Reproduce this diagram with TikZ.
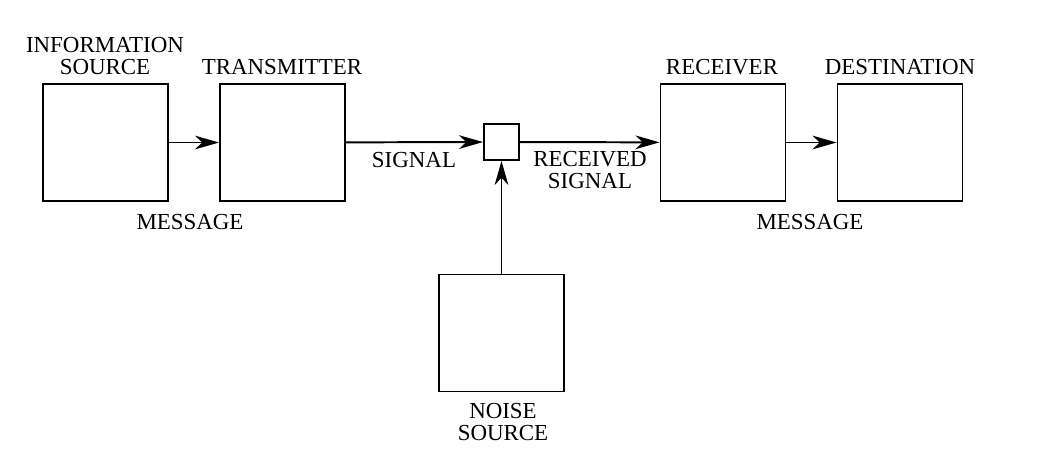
\documentclass[tikz,border=0pt]{standalone}
\usepackage{fontspec}
\setmainfont{Liberation Serif}
\usetikzlibrary{arrows.meta}
\begin{document}
\begin{tikzpicture}[x=0.025cm,y=-0.025cm,cap=round,>={Stealth[length=0.6cm,width=0.34cm,inset=0.18cm]},
        block/.style={draw,line width=1.3pt,minimum width=3.125cm,minimum height=2.925cm,inner sep=0pt},
        tag/.style={font=\fontsize{16.3}{15}\selectfont,align=center,inner sep=0pt},
        link/.style={->,line width=1.4pt}]
            \useasboundingbox (0,0) rectangle (1052,458);

            % draw the blocks
            \node[block] (src) at (105.5,142.5) {};
            \node[block] (tx) at (282.5,142.5) {};
            \node[block,minimum width=0.875cm,minimum height=0.9cm] (mix) at (501.5,142) {};
            \node[block] (rx) at (723,142.5) {};
            \node[block] (dst) at (900,142.5) {};
            \node[block] (noise) at (501.5,333) {};

            % draw the labels
            \node[tag] (srclbl) at (105,56) {INFORMATION\\SOURCE};
            \node[tag] (txlbl) at (282,67) {TRANSMITTER};
            \node[tag] (rxlbl) at (722,67) {RECEIVER};
            \node[tag] (dstlbl) at (900,67) {DESTINATION};
            \node[tag] (msg1) at (190,222) {MESSAGE};
            \node[tag] (msg2) at (810,222) {MESSAGE};
            \node[tag] (sig) at (414,160) {SIGNAL};
            \node[tag] (rsig) at (590,170) {RECEIVED\\SIGNAL};
            \node[tag] (noiselbl) at (503,422) {NOISE\\SOURCE};

            % draw the connectors
            \draw[link] (src) -- (tx);
            \draw[link] (tx) -- (mix);
            \draw[link] (mix) -- (rx);
            \draw[link] (rx) -- (dst);
            \draw[link] (noise) -- (mix);

        \end{tikzpicture}
\end{document}
